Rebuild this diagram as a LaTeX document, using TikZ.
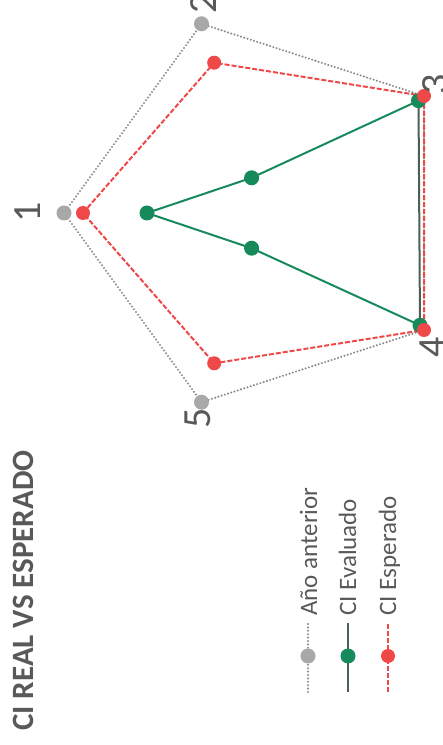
\documentclass[tikz,border=0pt]{standalone}
\usepackage{fontspec}
\setmainfont{Carlito}
\usepackage{tikz}
\definecolor{anteriorgray}{HTML}{8C8C8C}
\definecolor{dotgray}{HTML}{A8A8A8}
\definecolor{evalgreen}{HTML}{178A5C}
\definecolor{evaldark}{HTML}{4D5E56}
\definecolor{esperred}{HTML}{EE4848}
\definecolor{textgray}{HTML}{595959}
\tikzset{anterior/.style={anteriorgray, line width=2.3pt, line cap=round,
  dash pattern=on 0pt off 3.4pt}}
\tikzset{evaluado/.style={evalgreen, line width=2pt}}
\tikzset{esperado/.style={esperred, line width=2pt, dash pattern=on 5pt off 2pt}}
\tikzset{gdot/.style={circle, fill=dotgray, inner sep=0pt, minimum size=15pt}}
\tikzset{edot/.style={circle, fill=evalgreen, inner sep=0pt, minimum size=15pt}}
\tikzset{rdot/.style={circle, fill=esperred, inner sep=0pt, minimum size=14pt}}
\tikzset{axislab/.style={textgray, rotate=90, inner sep=0pt,
  font=\fontsize{40}{40}\selectfont}}
\tikzset{leglab/.style={textgray, rotate=90, inner sep=0pt, anchor=base west,
  font=\fontsize{25}{25}\selectfont}}
\begin{document}
\begin{tikzpicture}[x=1pt, y=1pt]
\useasboundingbox (0,0) rectangle (443,745);

% title
\node[textgray, rotate=90, inner sep=0pt, anchor=base west,
  font=\fontsize{31}{31}\selectfont\bfseries] (title) at (33, 14) {CI REAL VS ESPERADO};

% year before
\coordinate (g1) at (64, 532);
\coordinate (g2) at (201.5, 721.2);
\coordinate (g3) at (424, 649);
\coordinate (g4) at (424, 415);
\coordinate (g5) at (201.5, 342.8);
% expected
\coordinate (r1) at (83, 532);
\coordinate (r2) at (214.2, 682.3);
\coordinate (r3) at (424, 649);
\coordinate (r4) at (424, 415);
\coordinate (r5) at (214.2, 381.7);
% evaluated
\coordinate (e1) at (147, 532);
\coordinate (e2) at (251.6, 567.2);
\coordinate (e3) at (418.5, 644.3);
\coordinate (e4) at (420, 419.7);
\coordinate (e5) at (251.6, 496.8);

\draw[anterior] (g1) -- (g2) -- (g3) -- (g4) -- (g5) -- cycle;
\draw[evaluado] (e3) -- (e2) -- (e1) -- (e5) -- (e4);
\draw[evaluado, evaldark] (e3) -- (e4);
\draw[esperado] (r1) -- (r2) -- (r3) -- (r4) -- (r5) -- cycle;

\node[gdot] (g1m) at (g1) {};
\node[gdot] (g2m) at (g2) {};
\node[gdot] (g5m) at (g5) {};
\node[edot] (e1m) at (e1) {};
\node[edot] (e2m) at (e2) {};
\node[edot] (e3m) at (e3) {};
\node[edot] (e4m) at (e4) {};
\node[edot] (e5m) at (e5) {};
\node[rdot] (r1m) at (r1) {};
\node[rdot] (r2m) at (r2) {};
\node[rdot] (r3m) at (r3) {};
\node[rdot] (r4m) at (r4) {};
\node[rdot] (r5m) at (r5) {};

% axis numbers
\node[axislab] (lab1) at (28, 533) {1};
\node[axislab] (lab2) at (204, 742) {2};
\node[axislab] (lab3) at (436, 661) {3};
\node[axislab] (lab4) at (433, 398) {4};
\node[axislab] (lab5) at (198, 327) {5};

% legend
\coordinate (la0) at (308, 53);
\coordinate (la1) at (308, 122);
\coordinate (le0) at (348, 53);
\coordinate (le1) at (348, 122);
\coordinate (lr0) at (388, 53);
\coordinate (lr1) at (388, 122);
\draw[anterior] (la0) -- (la1);
\draw[evaluado, line width=1.6pt, evaldark] (le0) -- (le1);
\draw[esperado, line width=1.6pt] (lr0) -- (lr1);
\node[gdot] (lam) at (308, 89) {};
\node[edot] (lem) at (348, 89) {};
\node[rdot] (lrm) at (388, 89) {};
\node[leglab] (laname) at (317, 129) {Año anterior};
\node[leglab] (lename) at (356, 129) {CI Evaluado};
\node[leglab] (lrname) at (396, 129) {CI Esperado};

\end{tikzpicture}
\end{document}
